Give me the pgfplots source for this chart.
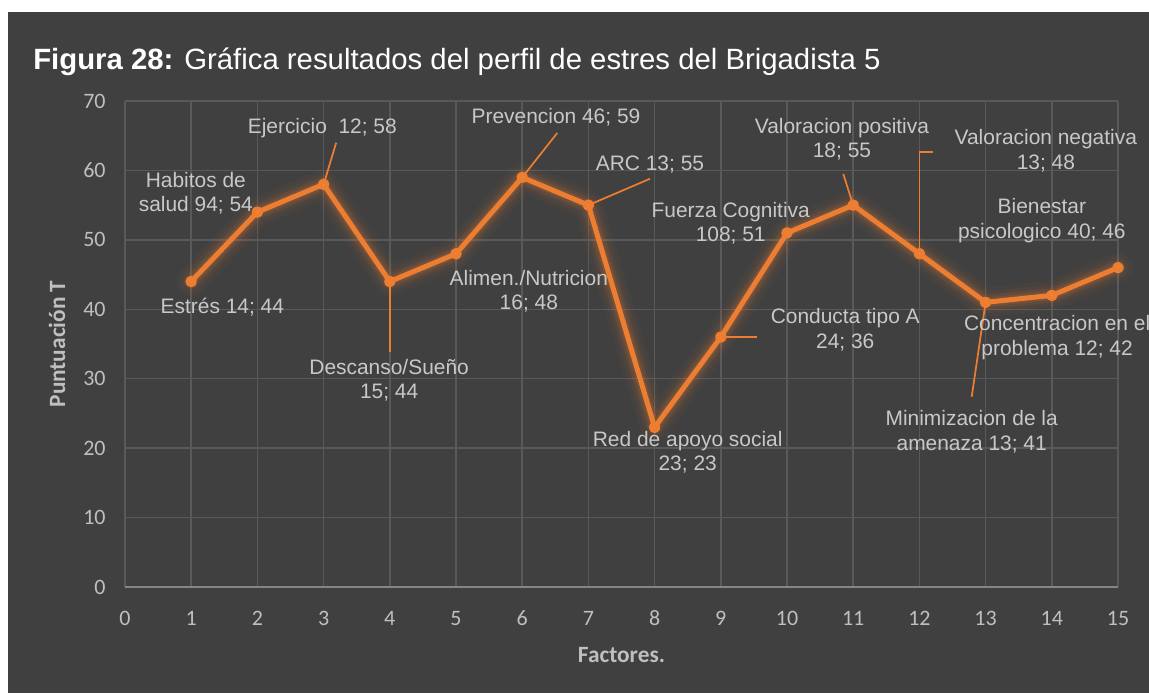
\documentclass[border=0pt]{standalone}
\usepackage{pgfplots}
\pgfplotsset{compat=1.18}
\usepackage{pgfplotstable}
\usepackage{fontspec}
\setmainfont{Liberation Sans}
\newfontfamily\carlito{Carlito}
\definecolor{bgdark}{HTML}{404040}
\definecolor{gridc}{HTML}{595959}
\definecolor{axisc}{HTML}{858585}
\definecolor{tickc}{HTML}{BFBFBF}
\definecolor{lblc}{HTML}{C8C8C8}
\definecolor{orangeline}{HTML}{ED7D31}
\definecolor{markc}{HTML}{F4B183}

\pgfplotstableread{
x y
1 44
2 54
3 58
4 44
5 48
6 59
7 55
8 23
9 36
10 51
11 55
12 48
13 41
14 42
15 46
}\perfil

\begin{document}
\begin{tikzpicture}[x=0.75pt,y=0.75pt,
  lbl/.style={text=lblc, align=center, inner sep=0pt, font=\fontsize{15.7}{18.5}\selectfont},
  ldr/.style={draw=orangeline, line width=1.3pt}]
\useasboundingbox (0,0) rectangle (1149,693);
\fill[white] (0,0) rectangle (1149,693);
\fill[bgdark] (8,0) rectangle (1149,681);
\node[anchor=base west, text=white, inner sep=0pt, font=\fontsize{22}{26}\selectfont]
  at (33,623) {\textbf{Figura 28:} Gráfica resultados del perfil de estres del Brigadista 5};

\begin{axis}[
  at={(93.75pt,79.5pt)}, anchor=south west,
  scale only axis, width=744.75pt, height=364.5pt,
  xmin=0, xmax=15, ymin=0, ymax=70,
  xtick={0,...,15}, ytick={0,10,...,70},
  major tick length=0pt,
  grid=major,
  major grid style={gridc, line width=1.1pt},
  axis line style={draw=none},
  /pgf/number format/assume math mode=true,
  ticklabel style={font=\carlito\fontsize{16.5}{16.5}\selectfont, text=tickc},
  xticklabel style={yshift=-14pt, text height=11pt, text depth=0pt},
  yticklabel style={xshift=-11pt},
  xlabel={Factores.},
  ylabel={Puntuación T},
  label style={font=\carlito\bfseries\fontsize{17.5}{18}\selectfont, text=tickc},
  xlabel style={at={(axis description cs:0.5,-0.14)}, anchor=center},
  ylabel style={at={(axis description cs:-0.0685,0.5)}, anchor=center, rotate=0},
  clip=false,
]
\draw[axisc, line width=1.3pt] (rel axis cs:0,0) -- (rel axis cs:1,0);
% glow
\addplot[orangeline, line width=22pt, opacity=0.035, line join=round, line cap=round] table[x=x,y=y] {\perfil};
\addplot[orangeline, line width=16pt, opacity=0.06, line join=round, line cap=round] table[x=x,y=y] {\perfil};
\addplot[orangeline, line width=11pt, opacity=0.10, line join=round, line cap=round] table[x=x,y=y] {\perfil};
\addplot[orangeline, line width=7pt, opacity=0.15, line join=round, line cap=round] table[x=x,y=y] {\perfil};
% leader lines
\draw[ldr] (axis cs:3.19,64.0) -- (axis cs:3.02,58.6);
\draw[ldr] (axis cs:4,44) -- (axis cs:4,33.8);
\draw[ldr] (axis cs:6.53,65.4) -- (axis cs:6,59);
\draw[ldr] (axis cs:7.93,58.8) -- (axis cs:7,55);
\draw[ldr] (axis cs:9,36) -- (axis cs:9.55,36);
\draw[ldr] (axis cs:10.85,59.5) -- (axis cs:11,55);
\draw[ldr] (axis cs:12,48) -- (axis cs:12,62.65) -- (axis cs:12.2,62.65);
\draw[ldr] (axis cs:12.79,27.4) -- (axis cs:13,41);
% main line
\addplot[orangeline, line width=3.75pt, line join=round, mark=*, mark size=2.4pt,
  mark options={fill=markc, draw=none}] table[x=x,y=y] {\perfil};
% labels
\node[lbl] at (axis cs:1.47,40.3) {Estrés 14; 44};
\node[lbl] at (axis cs:1.07,56.7) {Habitos de\\salud 94; 54};
\node[lbl] at (axis cs:2.98,66.1) {Ejercicio\ \ 12; 58};
\node[lbl] at (axis cs:3.99,29.8) {Descanso/Sueño\\15; 44};
\node[lbl] at (axis cs:6.10,42.6) {Alimen./Nutricion\\16; 48};
\node[lbl] at (axis cs:6.51,67.7) {Prevencion 46; 59};
\node[lbl] at (axis cs:7.93,60.9) {ARC 13; 55};
\node[lbl] at (axis cs:8.50,19.4) {Red de apoyo social\\23; 23};
\node[lbl] at (axis cs:9.15,52.4) {Fuerza Cognitiva\\108; 51};
\node[lbl] at (axis cs:10.88,37.1) {Conducta tipo A\\24; 36};
\node[lbl] at (axis cs:10.83,64.5) {Valoracion positiva\\18; 55};
\node[lbl] at (axis cs:13.91,62.8) {Valoracion negativa\\13; 48};
\node[lbl] at (axis cs:12.79,22.4) {Minimizacion de la\\amenaza 13; 41};
\node[lbl] at (axis cs:14.08,35.9) {Concentracion en el\\problema 12; 42};
\node[lbl] at (axis cs:13.85,52.8) {Bienestar\\psicologico 40; 46};
\end{axis}
\end{tikzpicture}
\end{document}
